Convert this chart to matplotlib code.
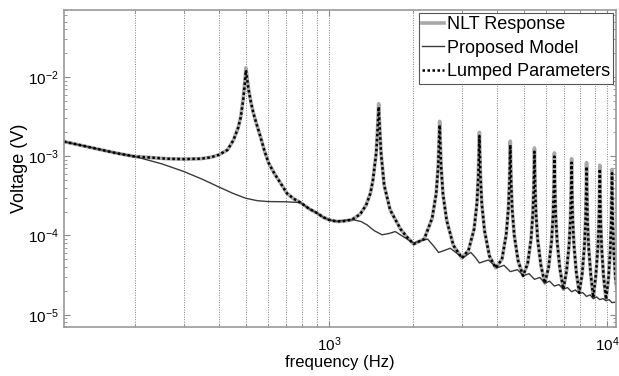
import matplotlib
matplotlib.use("Agg")
import matplotlib.pyplot as plt
from matplotlib.ticker import LogLocator, NullFormatter

plt.rcParams["font.family"] = ["Liberation Sans", "DejaVu Sans"]

# lumped parameter / NLT curve (same frequency grid)
lp_freq = [
    111, 140, 170, 200, 230, 260, 300, 345, 375, 400, 430, 452, 470, 480, 490, 496,
    501, 506, 512, 522, 533, 548, 565, 585, 605, 635, 667, 704, 745, 787, 850, 900,
    950, 1000, 1066, 1130, 1205, 1290, 1355, 1405, 1435, 1475, 1493,
    1505, 1517, 1535, 1575, 1655, 1805, 1900, 2010,
    2194, 2344, 2424, 2464, 2482, 2494, 2506, 2524, 2564, 2644, 2794, 3000,
    3167, 3317, 3397, 3437, 3455, 3467, 3479, 3497, 3537, 3617, 3767, 3970,
    4178, 4328, 4408, 4448, 4466, 4478, 4490, 4508, 4548, 4628, 4778, 4975,
    5170, 5320, 5400, 5440, 5458, 5470, 5482, 5500, 5540, 5620, 5770, 5960,
    6153, 6303, 6383, 6423, 6441, 6453, 6465, 6483, 6523, 6603, 6753, 6950,
    7140, 7290, 7370, 7410, 7428, 7440, 7452, 7470, 7510, 7590, 7740, 7930,
    8123, 8273, 8353, 8393, 8411, 8423, 8435, 8453, 8493, 8573, 8723, 8910,
    9100, 9250, 9330, 9370, 9388, 9400, 9412, 9430, 9470, 9550, 9700, 9900,
    10100, 10250, 10330, 10370, 10388, 10400, 10412, 10430, 10470, 10550, 10700, 10800,
]
lp_volt = [
    1.53e-3, 1.28e-3, 1.10e-3, 9.9e-4, 9.6e-4, 9.3e-4, 9.2e-4, 9.3e-4, 9.7e-4, 1.04e-3,
    1.20e-3, 1.60e-3, 2.30e-3, 3.10e-3, 5.20e-3, 8.00e-3,
    1.22e-2, 9.50e-3, 6.90e-3, 4.80e-3, 3.50e-3, 2.50e-3, 1.77e-3, 1.15e-3, 8.2e-4,
    6.0e-4, 4.6e-4, 3.4e-4, 2.9e-4, 2.6e-4, 2.15e-4, 1.93e-4,
    1.70e-4, 1.57e-4, 1.50e-4, 1.52e-4, 1.58e-4, 1.85e-4, 2.4e-4, 3.4e-4, 5.0e-4, 1.1e-3, 2.33e-3,
    4.2e-3, 2.33e-3, 1.08e-3, 4.3e-4, 2.1e-4, 1.2e-4, 9.6e-5, 7.8e-5,
    9.0e-5, 1.65e-4, 3.4e-4, 7.5e-4, 1.54e-3, 2.48e-3, 1.54e-3, 7.5e-4, 3.3e-4, 1.55e-4, 7.5e-5, 5.2e-5,
    6.5e-5, 1.2e-4, 2.55e-4, 5.7e-4, 1.15e-3, 1.8e-3, 1.15e-3, 5.7e-4, 2.5e-4, 1.15e-4, 5.5e-5, 3.9e-5,
    5.0e-5, 1.02e-4, 2.2e-4, 4.8e-4, 9.4e-4, 1.39e-3, 9.4e-4, 4.8e-4, 2.15e-4, 1.0e-4, 4.8e-5, 3.1e-5,
    4.4e-5, 9.1e-5, 1.95e-4, 4.2e-4, 8.1e-4, 1.14e-3, 8.1e-4, 4.2e-4, 1.9e-4, 8.8e-5, 4.2e-5, 2.5e-5,
    4.0e-5, 8.5e-5, 1.8e-4, 3.9e-4, 7.3e-4, 9.9e-4, 7.3e-4, 3.9e-4, 1.78e-4, 8.3e-5, 3.8e-5, 2.1e-5,
    3.6e-5, 7.7e-5, 1.63e-4, 3.5e-4, 6.3e-4, 8.3e-4, 6.3e-4, 3.5e-4, 1.6e-4, 7.5e-5, 3.4e-5, 1.9e-5,
    3.3e-5, 7.2e-5, 1.55e-4, 3.3e-4, 5.8e-4, 7.4e-4, 5.8e-4, 3.3e-4, 1.52e-4, 7.0e-5, 3.2e-5, 1.64e-5,
    3.2e-5, 7.0e-5, 1.5e-4, 3.2e-4, 5.5e-4, 6.9e-4, 5.5e-4, 3.2e-4, 1.48e-4, 6.8e-5, 3.0e-5, 1.56e-5,
    2.9e-5, 6.4e-5, 1.4e-4, 3.0e-4, 5.0e-4, 6.1e-4, 5.0e-4, 3.0e-4, 1.4e-4, 6.5e-5, 3.0e-5, 2.2e-5,
]
nlt_volt = [
    1.53e-3, 1.28e-3, 1.10e-3, 9.9e-4, 9.6e-4, 9.3e-4, 9.2e-4, 9.3e-4, 9.7e-4, 1.04e-3,
    1.20e-3, 1.60e-3, 2.30e-3, 3.15e-3, 5.40e-3, 8.40e-3,
    1.30e-2, 9.90e-3, 7.10e-3, 4.90e-3, 3.50e-3, 2.50e-3, 1.77e-3, 1.15e-3, 8.2e-4,
    6.0e-4, 4.6e-4, 3.4e-4, 2.9e-4, 2.6e-4, 2.15e-4, 1.93e-4,
    1.70e-4, 1.57e-4, 1.50e-4, 1.52e-4, 1.58e-4, 1.85e-4, 2.4e-4, 3.4e-4, 5.0e-4, 1.12e-3, 2.45e-3,
    4.6e-3, 2.45e-3, 1.10e-3, 4.3e-4, 2.1e-4, 1.2e-4, 9.6e-5, 7.8e-5,
    9.0e-5, 1.65e-4, 3.4e-4, 7.6e-4, 1.62e-3, 2.75e-3, 1.62e-3, 7.6e-4, 3.3e-4, 1.55e-4, 7.5e-5, 5.2e-5,
    6.5e-5, 1.2e-4, 2.55e-4, 5.8e-4, 1.21e-3, 2.0e-3, 1.21e-3, 5.8e-4, 2.5e-4, 1.15e-4, 5.5e-5, 3.9e-5,
    5.0e-5, 1.02e-4, 2.2e-4, 4.9e-4, 9.9e-4, 1.55e-3, 9.9e-4, 4.9e-4, 2.15e-4, 1.0e-4, 4.8e-5, 3.1e-5,
    4.4e-5, 9.1e-5, 1.95e-4, 4.3e-4, 8.5e-4, 1.27e-3, 8.5e-4, 4.3e-4, 1.9e-4, 8.8e-5, 4.2e-5, 2.5e-5,
    4.0e-5, 8.5e-5, 1.8e-4, 4.0e-4, 7.7e-4, 1.10e-3, 7.7e-4, 4.0e-4, 1.78e-4, 8.3e-5, 3.8e-5, 2.1e-5,
    3.6e-5, 7.7e-5, 1.63e-4, 3.6e-4, 6.6e-4, 9.3e-4, 6.6e-4, 3.6e-4, 1.6e-4, 7.5e-5, 3.4e-5, 1.9e-5,
    3.3e-5, 7.2e-5, 1.55e-4, 3.4e-4, 6.1e-4, 8.3e-4, 6.1e-4, 3.4e-4, 1.52e-4, 7.0e-5, 3.2e-5, 1.64e-5,
    3.2e-5, 7.0e-5, 1.5e-4, 3.3e-4, 5.8e-4, 7.7e-4, 5.8e-4, 3.3e-4, 1.48e-4, 6.8e-5, 3.0e-5, 1.56e-5,
    2.9e-5, 6.4e-5, 1.4e-4, 3.1e-4, 5.3e-4, 6.8e-4, 5.3e-4, 3.1e-4, 1.4e-4, 6.5e-5, 3.0e-5, 2.2e-5,
]

# proposed model curve
pm_freq = [
    111, 140, 170, 200, 250, 300, 350, 400, 450, 500, 550, 600, 700, 787, 850, 900,
    950, 1000, 1066, 1150, 1220, 1300, 1367, 1450, 1548, 1640, 1727, 1850, 2010,
    2130, 2258, 2370, 2473, 2600, 2725, 2870, 3025, 3130, 3230, 3350, 3467, 3600,
    3737, 3870, 4005, 4250, 4480, 4750, 5000, 5230, 5470, 5720, 5960, 6200, 6450,
    6700, 6950, 7190, 7440, 7680, 7930, 8170, 8420, 8670, 8910, 9150, 9400, 9650,
    9900, 10150, 10400, 10800,
]
pm_volt = [
    1.53e-3, 1.28e-3, 1.10e-3, 9.9e-4, 8.0e-4, 6.4e-4, 5.1e-4, 4.1e-4, 3.4e-4, 2.95e-4,
    2.75e-4, 2.68e-4, 2.66e-4, 2.6e-4, 2.15e-4, 1.93e-4,
    1.70e-4, 1.57e-4, 1.51e-4, 1.56e-4, 1.58e-4, 1.50e-4, 1.36e-4, 1.15e-4, 1.02e-4,
    1.06e-4, 1.12e-4, 9.6e-5, 8.0e-5,
    8.6e-5, 9.0e-5, 7.4e-5, 6.1e-5, 6.5e-5, 6.9e-5, 6.0e-5, 5.2e-5, 5.7e-5, 6.1e-5,
    5.3e-5, 4.5e-5, 4.7e-5, 4.9e-5, 4.4e-5, 3.9e-5, 4.2e-5, 3.5e-5, 3.7e-5, 3.1e-5,
    3.3e-5, 2.8e-5, 2.95e-5, 2.5e-5, 2.65e-5, 2.3e-5, 2.4e-5, 2.1e-5, 2.2e-5, 1.95e-5,
    2.05e-5, 1.85e-5, 1.9e-5, 1.7e-5, 1.78e-5, 1.6e-5, 1.68e-5, 1.55e-5, 1.6e-5,
    1.5e-5, 1.55e-5, 1.42e-5, 1.45e-5,
]

fig = plt.figure(figsize=(6.19, 3.76), dpi=100)
ax = fig.add_axes([64 / 619, 49 / 376, 552 / 619, 317 / 376])

ax.loglog(lp_freq, nlt_volt, color="#a8a8a8", linewidth=2.6, label="NLT Response")
ax.loglog(pm_freq, pm_volt, color="#3a3a3a", linewidth=1.0, label="Proposed Model")
ax.loglog(lp_freq, lp_volt, color="black", linewidth=1.8, linestyle=(0, (1, 1)),
          label="Lumped Parameters")

ax.set_xlim(111, 10750)
ax.set_ylim(7e-6, 7e-2)

ax.xaxis.set_major_locator(LogLocator(base=10))
ax.xaxis.set_minor_locator(LogLocator(base=10, subs=range(2, 10)))
ax.xaxis.set_minor_formatter(NullFormatter())
ax.yaxis.set_major_locator(LogLocator(base=10))
ax.yaxis.set_minor_locator(LogLocator(base=10, subs=range(2, 10)))
ax.yaxis.set_minor_formatter(NullFormatter())

ax.grid(True, which="both", axis="x", linestyle=(0, (1, 1.5)), color="#808080", linewidth=0.7)
ax.tick_params(which="both", direction="in", top=True, right=True, color="#888888",
               labelsize=11)
ax.tick_params(which="major", length=4)
ax.tick_params(axis="x", which="major", pad=6)
ax.tick_params(which="minor", length=2)
for sp in ax.spines.values():
    sp.set_color("#999999")
    sp.set_linewidth(1.2)

ax.set_xlabel("frequency (Hz)", fontsize=12, labelpad=1)
ax.set_ylabel("Voltage (V)", fontsize=13, labelpad=0)

leg = ax.legend(loc="upper right", fontsize=13, handlelength=1.2, handletextpad=0.15,
                labelspacing=0.35, borderpad=0.2, borderaxespad=0.15, fancybox=False,
                framealpha=1, edgecolor="#555555")
leg.get_frame().set_linewidth(0.8)

fig.savefig("out.png", dpi=100)
